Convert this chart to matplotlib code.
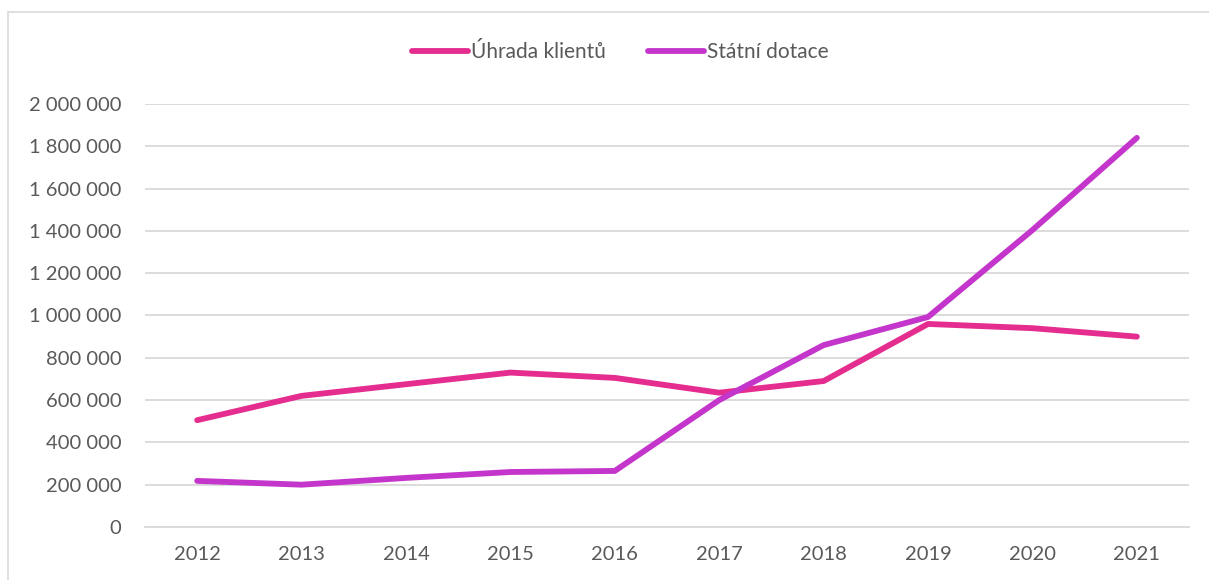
import matplotlib.pyplot as plt
from matplotlib.patches import Rectangle
from matplotlib.ticker import FuncFormatter

# Data
years = [2012, 2013, 2014, 2015, 2016, 2017, 2018, 2019, 2020, 2021]
uhrada_klientu = [505000, 620000, 675000, 730000, 705000, 635000, 690000, 960000, 940000, 900000]
statni_dotace = [218000, 200000, 232000, 260000, 265000, 600000, 860000, 993000, 1404000, 1840000]
series_labels = ["Úhrada klientů", "Státní dotace"]
series_colors = ["#E42D8F", "#C436CB"]

plt.rcParams["font.family"] = ["Lato", "DejaVu Sans"]
text_color = "#595959"

fig = plt.figure(figsize=(12.09, 5.8), dpi=100)
ax = fig.add_axes([0.1199, 0.0914, 0.8636, 0.7293])

# light frame around the chart area
fig.patches.append(Rectangle((8 / 1209, -0.01), 1.5, 1 - 12 / 580 + 0.01,
                             transform=fig.transFigure, fill=False,
                             edgecolor="#D9D9D9", linewidth=1.2))

x = list(range(len(years)))
ax.plot(x, uhrada_klientu, color=series_colors[0], lw=4.2,
        solid_capstyle="round", solid_joinstyle="round", label=series_labels[0])
ax.plot(x, statni_dotace, color=series_colors[1], lw=4.2,
        solid_capstyle="round", solid_joinstyle="round", label=series_labels[1])

ax.set_xlim(-0.5, len(years) - 0.5)
ax.set_ylim(0, 2000000)
ax.set_yticks(range(0, 2000001, 200000))
ax.yaxis.set_major_formatter(FuncFormatter(lambda v, p: f"{int(v):,}".replace(",", " ")))
ax.set_xticks(x)
ax.set_xticklabels([str(y) for y in years])

ax.grid(axis="y", color="#D9D9D9", lw=1.3)
ax.set_axisbelow(True)
for s in ["top", "right", "left"]:
    ax.spines[s].set_visible(False)
ax.spines["bottom"].set_color("#D9D9D9")
ax.spines["bottom"].set_linewidth(1.3)
ax.tick_params(length=0, labelsize=14.5, colors=text_color)
ax.tick_params(axis="x", pad=14)
ax.tick_params(axis="y", pad=17)

leg = fig.legend(loc="center", bbox_to_anchor=(0.513, 0.91), ncol=2, frameon=False,
                 fontsize=15, handlelength=2.7, handletextpad=0.15, columnspacing=2.0)
for t in leg.get_texts():
    t.set_color(text_color)

fig.savefig("out.png", dpi=100)
